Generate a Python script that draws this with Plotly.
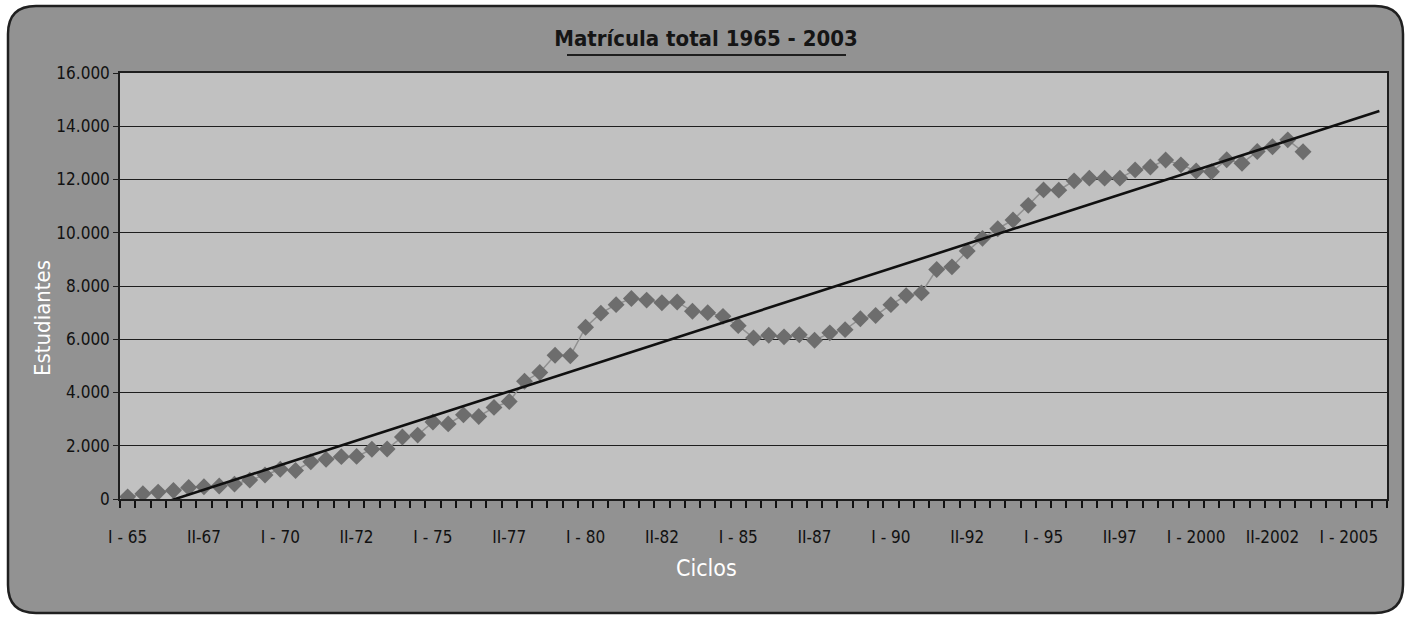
import numpy as np
import plotly.graph_objects as go

# ---- data -------------------------------------------------------------
# semesters I-65, II-65, I-66, ... up to I-2006 (axis extent)
years = list(range(1965, 2007))
categories = []
for yr in years:
    for sem in ("I", "II"):
        categories.append(f"{sem}-{yr}")
categories = categories[:83]

tick_index = [0, 5, 10, 15, 20, 25, 30, 35, 40, 45, 50, 55, 60, 65, 70, 75, 80]
tick_labels = ["I - 65", "II-67", "I - 70", "II-72", "I - 75", "II-77", "I - 80",
               "II-82", "I - 85", "II-87", "I - 90", "II-92", "I - 95", "II-97",
               "I - 2000", "II-2002", "I - 2005"]

estudiantes = [80, 200, 260, 320, 430, 460, 490, 560, 710, 900,
               1120, 1070, 1400, 1490, 1590, 1600, 1870, 1880, 2330, 2400,
               2890, 2820, 3160, 3100, 3440, 3660, 4420, 4750, 5400, 5380,
               6450, 6980, 7300, 7530, 7470, 7370, 7400, 7050, 7000, 6860,
               6510, 6050, 6150, 6090, 6170, 5960, 6240, 6360, 6770, 6890,
               7300, 7640, 7740, 8620, 8720, 9310, 9790, 10150, 10480, 11030,
               11610, 11600, 11950, 12050, 12050, 12050, 12360, 12470, 12730, 12550,
               12320, 12290, 12740, 12610, 13050, 13230, 13490, 13040]

# ---- derived -----------------------------------------------------------
x_idx = np.arange(len(estudiantes))
slope, intercept = np.polyfit(x_idx, estudiantes, 1)
x_trend = np.arange(0, len(categories))
y_trend = slope * x_trend + intercept

W, H = 1408, 619
L, R, T, B = 120, 21, 73, 120
PW, PH = W - L - R, H - T - B


def px(xp):
    return (xp - L) / PW


def py(yp):
    return (H - B - yp) / PH


fig = go.Figure()

fig.add_trace(go.Scatter(
    x=x_idx, y=estudiantes, mode="lines+markers",
    line=dict(color="#909090", width=1.5),
    marker=dict(symbol="diamond", size=13, color="#6d6d6d"),
    text=categories[:len(estudiantes)], hovertemplate="%{text}: %{y}<extra></extra>",
    showlegend=False, cliponaxis=True,
))
fig.add_trace(go.Scatter(
    x=x_trend, y=y_trend, mode="lines",
    line=dict(color="#101010", width=2.6),
    hoverinfo="skip", showlegend=False,
))

# rounded panel
x0, x1 = px(8), px(1403)
y0, y1 = py(613), py(6)
rx, ry = 28 / PW, 28 / PH
panel = (f"M {x0+rx},{y1} L {x1-rx},{y1} Q {x1},{y1} {x1},{y1-ry} "
         f"L {x1},{y0+ry} Q {x1},{y0} {x1-rx},{y0} L {x0+rx},{y0} "
         f"Q {x0},{y0} {x0},{y0+ry} L {x0},{y1-ry} Q {x0},{y1} {x0+rx},{y1} Z")

shapes = [
    dict(type="path", path=panel, xref="paper", yref="paper",
         fillcolor="#929292", line=dict(color="#202020", width=2.5), layer="below"),
    dict(type="rect", xref="paper", yref="paper", x0=0, x1=1, y0=0, y1=1,
         fillcolor="#c1c1c1", line=dict(width=0), layer="below"),
    dict(type="line", xref="paper", yref="paper", x0=px(567), x1=px(846),
         y0=py(55), y1=py(55), line=dict(color="#1e1e1e", width=2)),
]

tick_font = dict(family="DejaVu Sans Condensed", size=17, color="#111111")

fig.update_layout(
    width=W, height=H,
    margin=dict(l=L, r=R, t=T, b=B, pad=0),
    paper_bgcolor="#ffffff",
    plot_bgcolor="rgba(0,0,0,0)",
    separators=",.",
    shapes=shapes,
    title=dict(text="<b>Matrícula total 1965 - 2003</b>", x=706 / W, xanchor="center",
               y=1 - 38 / H, yanchor="middle", xref="container", yref="container",
               font=dict(family="DejaVu Sans Condensed", size=22, color="#151515")),
    annotations=[
        dict(text="Estudiantes", xref="paper", yref="paper", x=px(42), y=py(318),
             xanchor="center", yanchor="middle",
             showarrow=False, textangle=-90,
             font=dict(family="DejaVu Sans Condensed", size=22, color="#ffffff")),
        dict(text="Ciclos", xref="paper", yref="paper", x=px(706), y=py(568),
             xanchor="center", yanchor="middle",
             showarrow=False,
             font=dict(family="DejaVu Sans Condensed", size=23, color="#ffffff")),
    ],
    xaxis=dict(
        range=[-0.5, len(categories) - 0.5],
        tickmode="array", tickvals=tick_index, ticktext=tick_labels,
        ticks="outside", ticklen=22, tickcolor="rgba(0,0,0,0)",
        tickfont=tick_font,
        showgrid=False, zeroline=False,
        showline=True, linecolor="#1e1e1e", linewidth=1.5, mirror=True,
        minor=dict(ticks="outside", ticklen=7, tickcolor="#111111", tickwidth=1.6,
                   tick0=-0.5, dtick=1, showgrid=False),
    ),
    yaxis=dict(
        range=[0, 16000], dtick=2000, tickformat=",d",
        ticks="outside", ticklen=5, tickcolor="#1e1e1e",
        tickfont=tick_font,
        showgrid=True, gridcolor="#1e1e1e", gridwidth=1.3,
        zeroline=False,
        showline=True, linecolor="#1e1e1e", linewidth=1.5, mirror=True,
    ),
)

fig.write_html("out.html", config={"displayModeBar": False},
               post_script="document.body.style.margin='0px';")
